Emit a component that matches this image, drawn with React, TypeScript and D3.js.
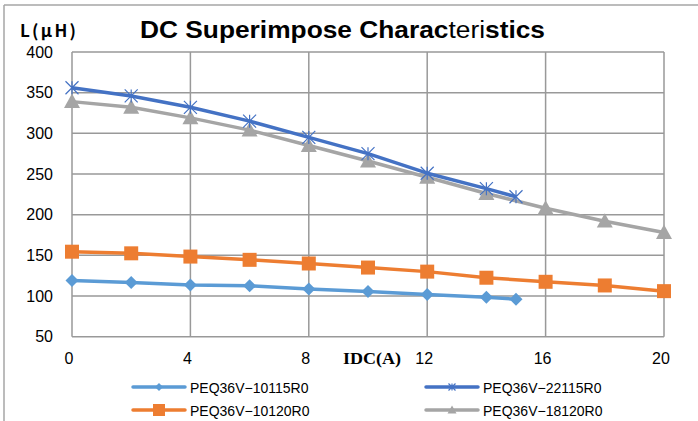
import React from "react";
import * as d3 from "d3";

// measured current points (A)
const currentA = [0, 2, 4, 6, 8, 10, 12, 14, 15];
const currentB = [0, 2, 4, 6, 8, 10, 12, 14, 16, 18, 20];

// inductance readings (uH)
const peq10115 = [119, 116.5, 113.5, 112.5, 108.5, 105.5, 102, 98.5, 96];
const peq22115 = [356, 346, 332, 315, 295, 275, 251, 232, 222];
const peq10120 = [154.5, 152.5, 148.5, 144.5, 140, 135, 130, 122.5, 117.5, 113, 106];
const peq18120 = [339, 332, 319, 304, 285, 266, 246, 226, 208, 192, 178];

const xTicks = [0, 4, 8, 12, 16, 20];
const yTicks = [50, 100, 150, 200, 250, 300, 350, 400];

type Marker = "diamond" | "square" | "star" | "triangle";

const series = [
  { name: "PEQ36V\u221210115R0", x: currentA, y: peq10115, color: "#5B9BD5", marker: "diamond" as Marker },
  { name: "PEQ36V\u221222115R0", x: currentA, y: peq22115, color: "#4472C4", marker: "star" as Marker },
  { name: "PEQ36V\u221210120R0", x: currentB, y: peq10120, color: "#ED7D31", marker: "square" as Marker },
  { name: "PEQ36V\u221218120R0", x: currentB, y: peq18120, color: "#A5A5A5", marker: "triangle" as Marker },
];

// draw order: back to front as in the original sheet
const drawOrder = [2, 0, 3, 1];

function markerPath(kind: Marker, cx: number, cy: number, r: number) {
  switch (kind) {
    case "diamond":
      return `M${cx},${cy - r}L${cx + r},${cy}L${cx},${cy + r}L${cx - r},${cy}Z`;
    case "square":
      return `M${cx - r},${cy - r}h${2 * r}v${2 * r}h${-2 * r}Z`;
    case "triangle":
      return `M${cx},${cy - r}L${cx + r},${cy + r * 0.8}L${cx - r},${cy + r * 0.8}Z`;
    default:
      return (
        `M${cx - r},${cy - r}L${cx + r},${cy + r}` +
        `M${cx - r},${cy + r}L${cx + r},${cy - r}` +
        `M${cx},${cy - r}L${cx},${cy + r}`
      );
  }
}

function Mark({ kind, cx, cy, color, big }: { kind: Marker; cx: number; cy: number; color: string; big: boolean }) {
  const size: Record<Marker, number> = big
    ? { diamond: 6.5, square: 7, triangle: 8, star: 6.5 }
    : { diamond: 4, square: 6, triangle: 4.5, star: 3.5 };
  const r = size[kind];
  if (kind === "star") {
    return <path d={markerPath(kind, cx, cy, r)} stroke={color} strokeWidth={1.2} fill="none" />;
  }
  return <path d={markerPath(kind, cx, cy, r)} fill={color} />;
}

export default function App() {
  const width = 698;
  const height = 421;

  const x = d3.scaleLinear().domain([0, 20]).range([72, 664]);
  const y = d3.scaleLinear().domain([50, 400]).range([336.7, 52]);

  const line = d3
    .line<[number, number]>()
    .x((d) => x(d[0]))
    .y((d) => y(d[1]));

  const legendPos = [
    { lx: 133, ly: 387 },
    { lx: 426, ly: 387 },
    { lx: 133, ly: 410 },
    { lx: 426, ly: 410 },
  ];

  return (
    <svg
      width={width}
      height={height}
      style={{ position: "absolute", left: 0, top: 0, background: "#fff" }}
    >
      <line x1={4} y1={5} x2={width} y2={5} stroke="#a6a6a6" strokeWidth={1.5} />
      <line x1={4} y1={5} x2={4} y2={height} stroke="#a6a6a6" strokeWidth={1.5} />

      <text
        x={140}
        y={38}
        fontFamily="Liberation Sans, Arial, sans-serif"
        fontSize={23}
        fill="#000"
        textLength={405}
        lengthAdjust="spacingAndGlyphs"
      >
        <tspan fontWeight="bold">DC Superimpose Charac</tspan>
        <tspan>teri</tspan>
        <tspan fontWeight="bold">stics</tspan>
      </text>

      <text
        x={20}
        y={37}
        fontFamily="Noto Sans CJK JP, sans-serif"
        fontWeight={700}
        fontSize={17}
        textLength={56}
        lengthAdjust="spacing"
      >
        L(μH)
      </text>

      {/* grid */}
      <g stroke="#999" strokeWidth={1.5}>
        {yTicks.map((t) => (
          <line key={"h" + t} x1={x(0)} x2={x(20)} y1={y(t)} y2={y(t)} />
        ))}
        {xTicks.map((t) => (
          <line key={"v" + t} x1={x(t)} x2={x(t)} y1={y(400)} y2={y(50)} />
        ))}
      </g>

      <g fontFamily="Liberation Sans, Arial, sans-serif" fontSize={16} fill="#000">
        {yTicks.map((t) => (
          <text key={"yl" + t} x={53} y={y(t)} textAnchor="end" dominantBaseline="central">
            {t}
          </text>
        ))}
        {xTicks.map((t) => (
          <text key={"xl" + t} x={x(t) - 3} y={358} textAnchor="middle" dominantBaseline="central">
            {t}
          </text>
        ))}
      </g>

      <text
        x={343}
        y={364}
        fontFamily="Liberation Serif, Times New Roman, serif"
        fontWeight="bold"
        fontSize={17}
        textLength={58}
        lengthAdjust="spacingAndGlyphs"
      >
        IDC(A)
      </text>

      {drawOrder.map((i) => {
        const s = series[i];
        const pts = s.x.map((v, k) => [v, s.y[k]] as [number, number]);
        return (
          <g key={s.name}>
            <path d={line(pts) || ""} fill="none" stroke={s.color} strokeWidth={3.5} strokeLinejoin="round" />
            {pts.map((p, k) => (
              <Mark key={k} kind={s.marker} cx={x(p[0])} cy={y(p[1])} color={s.color} big={true} />
            ))}
          </g>
        );
      })}

      {/* legend */}
      {series.map((s, i) => {
        const { lx, ly } = legendPos[i];
        return (
          <g key={"lg" + s.name}>
            <line x1={lx} x2={lx + 52} y1={ly} y2={ly} stroke={s.color} strokeWidth={3.5} strokeLinecap="round" />
            <Mark kind={s.marker} cx={lx + 26} cy={ly} color={s.color} big={false} />
            <text
              x={lx + 57}
              y={ly + 6}
              fontFamily="Liberation Sans, Arial, sans-serif"
              fontSize={14}
              fill="#000"
            >
              {s.name}
            </text>
          </g>
        );
      })}
    </svg>
  );
}
